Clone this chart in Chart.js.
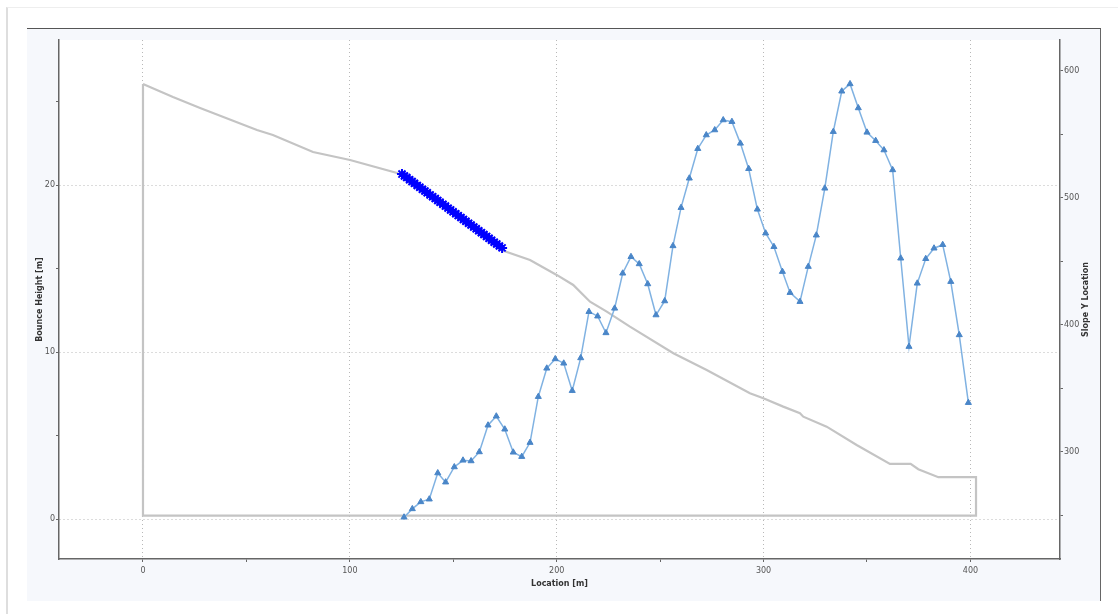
<!DOCTYPE html>
<html>
<head>
<meta charset="utf-8">
<script src="https://cdn.jsdelivr.net/npm/chart.js@4/dist/chart.umd.min.js"></script>
<style>
  body { margin: 0; background: #fff; }
  #wrap { position: relative; width: 1118px; height: 614px; overflow: hidden; }
  #edge { position: absolute; left: 6px; top: 7px; width: 1110px; height: 620px; border-left: 2px solid #dedede; border-top: 1px solid #eeeeee; }
  #panel { position: absolute; left: 27px; top: 28px; width: 1073px; height: 572px; background: #f6f8fc; border-top: 1.5px solid #555; border-right: 1.5px solid #666; }
  #chart { position: absolute; left: 0; top: 0; }
</style>
</head>
<body>
<div id="wrap">
  <div id="edge"></div>
  <div id="panel"></div>
  <canvas id="chart" width="1118" height="614"></canvas>
</div>
<script>
// bounce height along the path (left axis)
var bounceX = [126.2, 130.2, 134.3, 138.4, 142.5, 146.3, 150.5, 154.7, 158.6, 162.6,
  166.8, 170.8, 174.9, 179.0, 183.1, 187.1, 191.1, 195.2, 199.3, 203.4,
  207.5, 211.6, 215.6, 219.8, 223.8, 228.0, 231.9, 235.9, 239.9, 244.0,
  248.0, 252.2, 256.2, 260.1, 264.1, 268.2, 272.3, 276.4, 280.5, 284.7,
  288.8, 292.8, 297.0, 301.0, 305.0, 309.1, 312.8, 317.6, 321.6, 325.5,
  329.6, 333.7, 337.8, 341.8, 345.8, 350.0, 354.2, 358.2, 362.4, 366.3,
  370.3, 374.3, 378.4, 382.4, 386.6, 390.5, 394.6, 399.0];
var bounceH = [0.12, 0.62, 1.04, 1.20, 2.77, 2.22, 3.13, 3.53, 3.49, 4.03,
  5.63, 6.17, 5.39, 4.01, 3.75, 4.59, 7.34, 9.04, 9.60, 9.34,
  7.70, 9.66, 12.43, 12.16, 11.16, 12.63, 14.73, 15.72, 15.29, 14.09,
  12.23, 13.07, 16.37, 18.66, 20.42, 22.19, 23.01, 23.31, 23.91, 23.81,
  22.51, 20.99, 18.56, 17.13, 16.32, 14.83, 13.57, 13.03, 15.13, 17.01,
  19.82, 23.21, 25.63, 26.07, 24.63, 23.17, 22.67, 22.11, 20.92, 15.63,
  10.34, 14.13, 15.60, 16.23, 16.44, 14.23, 11.04, 6.98];

// slope outline (right axis)
var slopeX = [0, 14.5, 27.6, 55.1, 62.8, 82.2, 100.1, 122.8, 174.2, 187.1,
  200.0, 208.0, 216.1, 224.2, 235.4, 256.4, 272.5, 293.4, 299.9, 309.5,
  317.6, 319.2, 330.5, 345.0, 361.1, 371.1, 374.8, 384.5, 402.7, 402.7, 0, 0];
var slopeY = [589.8, 579.5, 570.9, 553.5, 549.6, 536.2, 529.9, 519.7, 458.5, 451.2,
  439.4, 431.5, 418.3, 410.5, 398.7, 377.7, 364.6, 346.2, 342.3, 335.7,
  330.5, 327.8, 319.9, 305.5, 290.6, 290.6, 286.4, 280.1, 280.1, 249.8, 249.8, 589.8];

// release points on the slope (right axis)
var startX = [125.2, 126.4, 127.5, 128.9, 130.1, 131.2, 132.6, 133.8, 135.1, 136.3,
  137.4, 138.8, 140.0, 141.3, 142.5, 143.6, 145.0, 146.2, 147.5, 148.7,
  149.9, 151.2, 152.4, 153.7, 154.9, 156.1, 157.4, 158.6, 159.9, 161.1,
  162.3, 163.6, 164.8, 166.1, 167.3, 168.5, 169.8, 171.0, 172.3, 173.6];
var startY = [518.8, 517.3, 516.1, 514.3, 512.9, 511.6, 509.8, 508.5, 506.8, 505.5,
  504.2, 502.4, 501.0, 499.5, 498.0, 496.7, 495.0, 493.6, 492.0, 490.6,
  489.1, 487.6, 486.1, 484.6, 483.1, 481.7, 480.1, 478.7, 477.1, 475.7,
  474.2, 472.7, 471.2, 469.7, 468.2, 466.8, 465.2, 463.8, 462.2, 460.7];

function pts(xs, ys) {
  return xs.map(function (x, i) { return { x: x, y: ys[i] }; });
}

var font = { family: 'DejaVu Sans', size: 8 };
var titleFont = { family: 'DejaVu Sans', size: 8, weight: 'bold' };

var plotBg = {
  id: 'plotBg',
  beforeDraw: function (chart) {
    var a = chart.chartArea, c = chart.ctx;
    c.save();
    c.fillStyle = '#ffffff';
    c.fillRect(a.left, a.top, a.right - a.left, a.bottom - a.top);
    c.restore();
  },
  afterDraw: function (chart) {
    var s = chart.scales.y1, c = chart.ctx;
    c.save();
    c.translate(s.right - 6, (chart.chartArea.top + chart.chartArea.bottom) / 2);
    c.rotate(-Math.PI / 2);
    c.font = 'bold 8px "DejaVu Sans"';
    c.fillStyle = '#333';
    c.textAlign = 'center';
    c.textBaseline = 'middle';
    c.fillText('Slope Y Location', 0, 0);
    c.restore();
  }
};

function minorGrid(step) {
  return function (ctx) {
    return ctx.tick && Math.abs(ctx.tick.value % step) < 1e-6 ? '#b8b8b8' : 'rgba(0,0,0,0)';
  };
}
function majorLabel(step) {
  return function (v) { return Math.abs(v % step) < 1e-6 ? v : ''; };
}

new Chart(document.getElementById('chart').getContext('2d'), {
  type: 'scatter',
  data: {
    datasets: [{
      label: 'Bounce Height',
      data: pts(bounceX, bounceH),
      yAxisID: 'y',
      showLine: true,
      borderColor: '#80b2e2',
      borderWidth: 1.5,
      pointStyle: 'triangle',
      pointRadius: 3.5,
      pointBackgroundColor: '#4a86c8',
      pointBorderColor: '#4a86c8',
      pointBorderWidth: 1,
      order: 1
    }, {
      label: 'Release',
      data: pts(startX, startY),
      yAxisID: 'y1',
      showLine: false,
      pointStyle: 'star',
      pointRadius: 5,
      borderColor: '#0000ff',
      backgroundColor: '#0000ff',
      pointBorderWidth: 2,
      order: 2
    }, {
      label: 'Slope',
      data: pts(slopeX, slopeY),
      yAxisID: 'y1',
      showLine: true,
      borderColor: '#c4c4c4',
      borderWidth: 2.2,
      pointRadius: 0,
      tension: 0,
      order: 3
    }]
  },
  options: {
    responsive: false,
    animation: false,
    layout: { padding: { left: 30, top: 40, right: 26, bottom: 25 } },
    plugins: { legend: { display: false }, tooltip: { enabled: false } },
    scales: {
      x: {
        type: 'linear',
        min: -40.6,
        max: 443.3,
        afterFit: function (s) { s.height = 30; },
        ticks: { stepSize: 50, includeBounds: false, autoSkip: false, maxRotation: 0, padding: 4,
          font: font, color: '#555', callback: majorLabel(100) },
        grid: { color: minorGrid(100), tickColor: '#666', tickLength: 3, lineWidth: 1 },
        border: { color: '#666', width: 1.5, dash: [1, 3] },
        title: { display: true, text: 'Location [m]', font: titleFont, color: '#333', padding: { top: 0, bottom: 0 } }
      },
      y: {
        type: 'linear',
        position: 'left',
        min: -2.38,
        max: 28.7,
        afterFit: function (s) { s.width = 29; },
        ticks: { stepSize: 5, includeBounds: false, autoSkip: false, padding: 1,
          font: font, color: '#555', callback: majorLabel(10) },
        grid: { color: minorGrid(10), tickColor: '#666', tickLength: 3, lineWidth: 1 },
        border: { color: '#666', width: 1.5, dash: [1, 3] },
        title: { display: true, text: 'Bounce Height [m]', font: titleFont, color: '#333', padding: { top: 5, bottom: 0 } }
      },
      y1: {
        type: 'linear',
        position: 'right',
        min: 215.7,
        max: 624.4,
        afterFit: function (s) { s.width = 32; },
        ticks: { stepSize: 50, includeBounds: false, autoSkip: false, padding: 1,
          font: font, color: '#555', callback: majorLabel(100) },
        grid: { drawOnChartArea: false, tickColor: '#666', tickLength: 3 },
        border: { color: '#666', width: 1.5 }
      }
    }
  },
  plugins: [plotBg]
});
</script>
</body>
</html>
